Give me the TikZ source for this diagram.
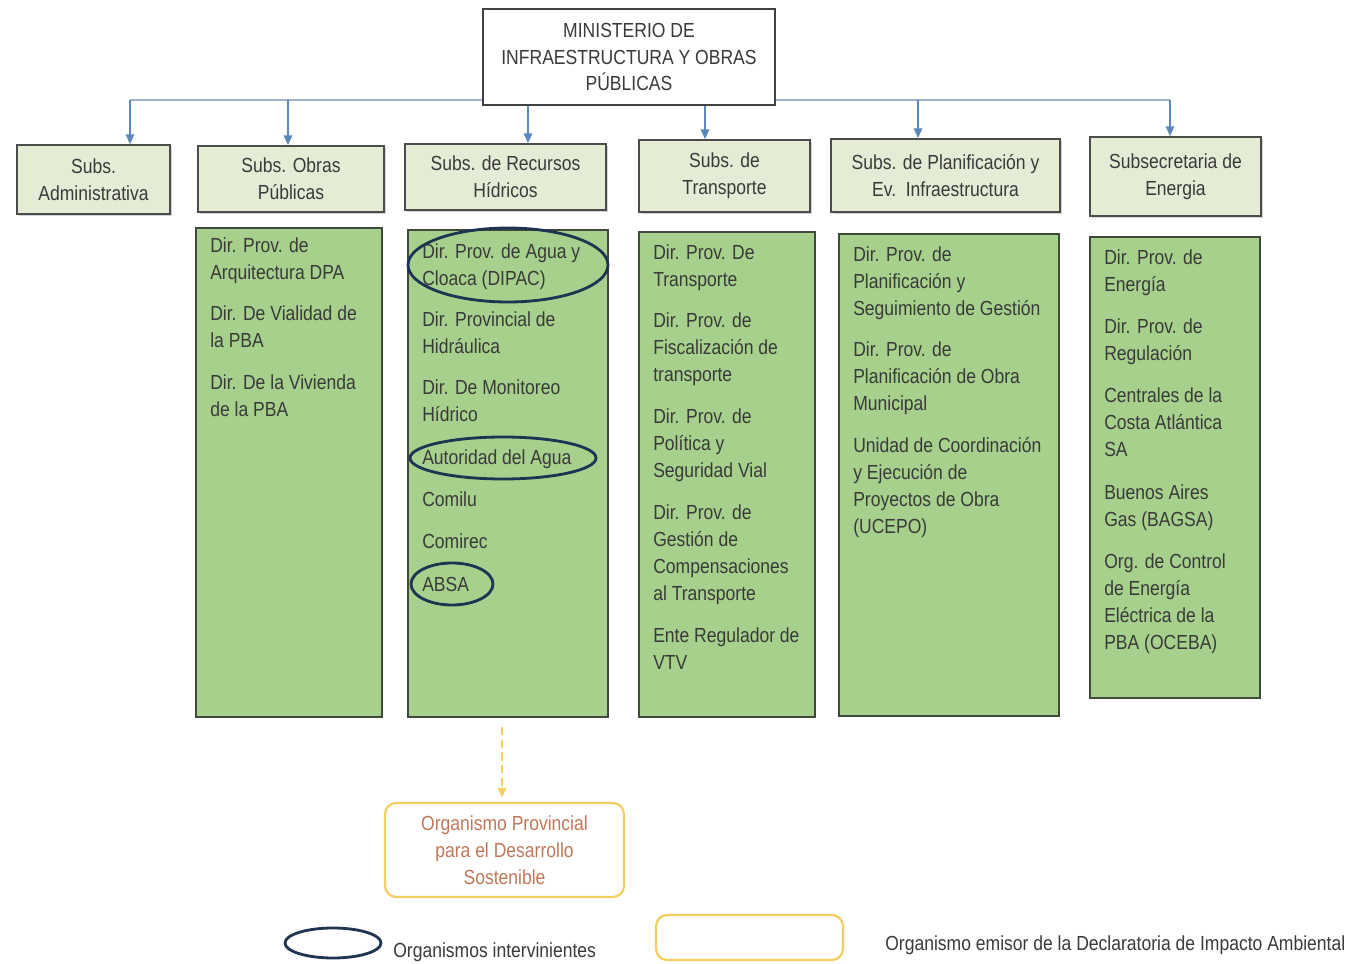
\documentclass[tikz,border=0pt]{standalone}
\usepackage{fontspec}
\setmainfont{Liberation Sans}[FakeStretch=0.86]
\usetikzlibrary{arrows.meta,fit,shadows}

\definecolor{subfill}{HTML}{E4ECD6}
\definecolor{dirfill}{HTML}{A6D08C}
\definecolor{edge}{HTML}{3F4A3C}
\definecolor{busblue}{HTML}{9DB3CF}
\definecolor{arrblue}{HTML}{5B86BE}
\definecolor{ringblue}{HTML}{1E3452}
\definecolor{opdsgold}{HTML}{F2CF5E}
\definecolor{opdstext}{HTML}{C0785A}
\definecolor{txtgray}{HTML}{3A3A3A}

\tikzset{
  minbox/.style={draw=black!75, line width=1.2pt, fill=white, inner sep=0pt},
  subbox/.style={draw=black!70, line width=1.2pt, fill=subfill, inner sep=0pt,
    drop shadow={shadow xshift=1.5pt, shadow yshift=-1.5pt, opacity=0.35}},
  boxtext/.style={align=center, inner sep=0pt, text=txtgray},
  dirbox/.style={draw=edge, line width=1.6pt, fill=dirfill, inner sep=0pt},
  dirtext/.style={anchor=north west, align=left, inner sep=0pt, text=txtgray},
  busline/.style={draw=busblue, line width=1.2pt},
  down/.style={draw=arrblue, line width=1.2pt, -{Triangle[length=7pt,width=6pt]}},
  ring/.style={draw=ringblue, line width=2pt},
  goldbox/.style={draw=opdsgold, line width=1.6pt, rounded corners=8pt, fill=white, inner sep=0pt},
  golddown/.style={draw=opdsgold, line width=1.6pt, dash pattern=on 6pt off 3pt, shorten >=3pt, -{Triangle[length=7pt,width=6pt]}},
}

\begin{document}
\begin{tikzpicture}[x=0.025cm, y=-0.025cm, font=\fontsize{14.5}{19.2}\selectfont]
  \useasboundingbox (0,0) rectangle (1356,964);

  % bus line behind the ministry
  \coordinate (t1) at (130,100);
  \coordinate (t2) at (288,100);
  \coordinate (t3) at (528,100);
  \coordinate (t4) at (705,100);
  \coordinate (t5) at (918,100);
  \coordinate (t6) at (1170,100);
  \draw[busline] (t1) -- (t6);

  \node[minbox, fit={(483,9) (775,105)}] (min) {};
  \node[boxtext, font=\fontsize{14.5}{18.6}\selectfont] (mintxt) at (min.center) {MINISTERIO DE\\INFRAESTRUCTURA Y OBRAS\\PÚBLICAS};

  % subsecretarias
  \node[subbox, fit={(17,145) (170,214)}] (adm) {};
  \node[subbox, fit={(198,146) (384,212)}] (obr) {};
  \node[subbox, fit={(405,144) (606,210)}] (hid) {};
  \node[subbox, fit={(639,140) (810,212)}] (tra) {};
  \node[subbox, fit={(831,139) (1060,212)}] (pla) {};
  \node[subbox, fit={(1090,137) (1261,216)}] (ene) {};
  \node[boxtext] (admtxt) at (adm.center) {Subs.\\Administrativa};
  \node[boxtext] (obrtxt) at (obr.center) {Subs. Obras\\Públicas};
  \node[boxtext] (hidtxt) at (hid.center) {Subs. de Recursos\\Hídricos};
  \node[boxtext] (tratxt) at (tra.center) {Subs. de\\Transporte};
  \node[boxtext] (platxt) at (pla.center) {Subs. de Planificación y\\Ev.\ \ Infraestructura};
  \node[boxtext] (enetxt) at (ene.center) {Subsecretaria de\\Energia};

  \draw[down] (t1) -- (t1 |- adm.north);
  \draw[down] (t2) -- (t2 |- obr.north);
  \draw[down] (t3 |- min.south) -- (t3 |- hid.north);
  \draw[down] (t4 |- min.south) -- (t4 |- tra.north);
  \draw[down] (t5) -- (t5 |- pla.north);
  \draw[down] (t6) -- (t6 |- ene.north);

  % direcciones
  \node[dirbox, fit={(196,228) (382,717)}] (obrdir) {};
  \node[dirbox, fit={(408,230) (608,717)}] (hiddir) {};
  \node[dirbox, fit={(639,232) (815,717)}] (tradir) {};
  \node[dirbox, fit={(839,234) (1059,716)}] (pladir) {};
  \node[dirbox, fit={(1090,237) (1260,698)}] (enedir) {};

  \node[dirtext] (obrlist) at (210,237) {Dir. Prov. de\\Arquitectura DPA\\[10.5pt]
    Dir. De Vialidad de\\la PBA\\[10.5pt]
    Dir. De la Vivienda\\de la PBA};
  \node[dirtext] (hidlist) at (422,243) {Dir. Prov. de Agua y\\Cloaca (DIPAC)\\[10.2pt]
    Dir. Provincial de\\Hidráulica\\[10.2pt]
    Dir. De Monitoreo\\Hídrico\\[11pt]
    Autoridad del Agua\\[11pt]
    Comilu\\[10.8pt]
    Comirec\\[10.8pt]
    ABSA};
  \node[dirtext] (tralist) at (653,244) {Dir. Prov. De\\Transporte\\[10.6pt]
    Dir. Prov. de\\Fiscalización de\\transporte\\[10.6pt]
    Dir. Prov. de\\Política y\\Seguridad Vial\\[10.6pt]
    Dir. Prov. de\\Gestión de\\Compensaciones\\al Transporte\\[10.6pt]
    Ente Regulador de\\VTV};
  \node[dirtext] (plalist) at (853,246) {Dir. Prov. de\\Planificación y\\Seguimiento de Gestión\\[10.5pt]
    Dir. Prov. de\\Planificación de Obra\\Municipal\\[10.5pt]
    Unidad de Coordinación\\y Ejecución de\\Proyectos de Obra\\(UCEPO)};
  \node[dirtext] (enelist) at (1104,249) {Dir. Prov. de\\Energía\\[10.7pt]
    Dir. Prov. de\\Regulación\\[11pt]
    Centrales de la\\Costa Atlántica\\SA\\[11pt]
    Buenos Aires\\Gas (BAGSA)\\[11pt]
    Org. de Control\\de Energía\\Eléctrica de la\\PBA (OCEBA)};

  % organismos intervinientes
  \draw[ring] (508,265) ellipse [x radius=100, y radius=37];
  \draw[ring] (503,458) ellipse [x radius=93, y radius=21];
  \draw[ring] (452,584) ellipse [x radius=41, y radius=21];

  % OPDS
  \coordinate (dtop) at (502,727);
  \node[goldbox, fit={(385,803) (624,897)}] (opds) {};
  \node[boxtext, text=opdstext] (opdstxt) at (opds.center) {Organismo Provincial\\para el Desarrollo\\Sostenible};
  \draw[golddown] (dtop) -- (dtop |- opds.north);

  % leyenda
  \draw[ring] (333,943) ellipse [x radius=48, y radius=15];
  \node[anchor=west, inner sep=0pt, text=txtgray] (legring) at (393,952) {Organismos intervinientes};
  \node[goldbox, fit={(656,915) (843,960)}] (leggold) {};
  \node[anchor=west, inner sep=0pt, text=txtgray] (leggoldtxt) at (885,945) {Organismo emisor de la Declaratoria de Impacto Ambiental};
\end{tikzpicture}
\end{document}
